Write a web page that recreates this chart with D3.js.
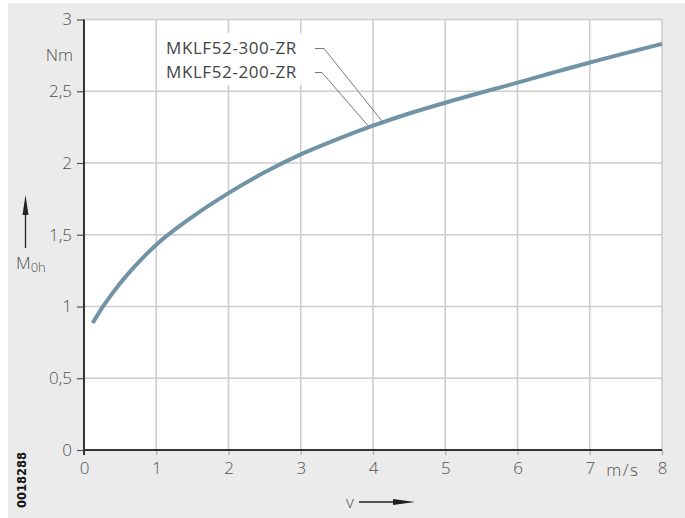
<!DOCTYPE html>
<html>
<head>
<meta charset="utf-8">
<script src="https://cdn.jsdelivr.net/npm/d3@7"></script>
<style>
  html, body { margin: 0; padding: 0; background: #ffffff; }
  svg { display: block; }
  text { font-family: "Open Sans", "DejaVu Sans", sans-serif; }
</style>
</head>
<body>
<div id="chart"></div>
<script>
// Frictional torque M0h versus speed v (curve shared by both sizes)
const speed  = [0.12, 0.25, 0.4, 0.6, 0.8, 1, 1.5, 2, 2.5, 3, 3.5, 4, 4.5, 5, 6, 7, 8];
const torque = [0.885, 0.99, 1.097, 1.222, 1.332, 1.43, 1.625, 1.79, 1.935, 2.06, 2.165, 2.26, 2.345, 2.42, 2.56, 2.70, 2.83];

const seriesLabels = ["MKLF52-300-ZR", "MKLF52-200-ZR"];
const seriesAnchorV = [4.12, 3.93];   // where each leader line meets the curve

const xTicks = [0, 1, 2, 3, 4, 5, 6, 7, 8];
const xTickLabels = ["0", "1", "2", "3", "4", "5", "6", "7", "8"];
const yTicks = [0, 0.5, 1, 1.5, 2, 2.5, 3];
const yTickLabels = ["0", "0,5", "1", "1,5", "2", "2,5", "3"];

const W = 685, H = 518;
const plot = { left: 84, right: 662, top: 19.5, bottom: 450 };
const FS = "17px";

const svg = d3.select("#chart").append("svg")
  .attr("width", W).attr("height", H);

// outer panel
svg.append("rect").attr("x", 8).attr("y", 3)
  .attr("width", W - 8).attr("height", H - 3).attr("fill", "#ebebeb");

const x = d3.scaleLinear().domain([0, 8]).range([plot.left, plot.right]);
const y = d3.scaleLinear().domain([0, 3]).range([plot.bottom, plot.top]);

// plot background
svg.append("rect")
  .attr("x", x(0)).attr("y", y(3))
  .attr("width", x(8) - x(0)).attr("height", y(0) - y(3))
  .attr("fill", "#ffffff");

// grid
const grid = svg.append("g").attr("stroke", "#cdcdcd").attr("stroke-width", 1.6);
grid.selectAll("line.gx").data(xTicks.slice(1)).join("line")
  .attr("x1", d => x(d)).attr("x2", d => x(d))
  .attr("y1", y(0)).attr("y2", y(3));
grid.selectAll("line.gy").data(yTicks.slice(1)).join("line")
  .attr("x1", x(0)).attr("x2", x(8))
  .attr("y1", d => y(d)).attr("y2", d => y(d));

// axes
const xAxis = d3.axisBottom(x).tickValues(xTicks)
  .tickFormat((d, i) => xTickLabels[i]).tickSize(5).tickPadding(7);
const yAxis = d3.axisLeft(y).tickValues(yTicks)
  .tickFormat((d, i) => yTickLabels[i]).tickSize(7).tickPadding(5);

const gx = svg.append("g").attr("transform", `translate(0,${y(0)})`).call(xAxis);
const gy = svg.append("g").attr("transform", `translate(${x(0)},0)`).call(yAxis);

[gx, gy].forEach(g => {
  g.select(".domain").remove();
  g.selectAll(".tick line").attr("stroke", "#555").attr("stroke-width", 1.2);
  g.selectAll(".tick text").attr("fill", "#505050")
    .style("font-size", FS).style("font-weight", 300);
});
gx.selectAll(".tick line").attr("stroke", "#aaa");
gx.selectAll(".tick text").attr("dy", "0.7em");

// axis lines
svg.append("line").attr("x1", x(0)).attr("x2", x(8)).attr("y1", y(0)).attr("y2", y(0))
  .attr("stroke", "#333").attr("stroke-width", 2);
svg.append("line").attr("x1", x(0)).attr("x2", x(0)).attr("y1", y(0) + 5).attr("y2", y(3))
  .attr("stroke", "#333").attr("stroke-width", 2);

// unit labels
svg.append("text").attr("x", 73).attr("y", y(2.75)).attr("dy", "0.35em")
  .attr("text-anchor", "end").attr("fill", "#505050")
  .style("font-size", FS).style("font-weight", 300).text("Nm");
svg.append("text").attr("x", (x(7) + x(8)) / 2 - 3).attr("y", y(0) + 20)
  .attr("dy", "0.35em").attr("letter-spacing", "1.5px")
  .attr("text-anchor", "middle").attr("fill", "#505050")
  .style("font-size", FS).style("font-weight", 300).text("m/s");

// axis titles with arrows
const arrowHead = (x0, y0, dir) => dir === "up"
  ? `M${x0 - 3},${y0 + 20} L${x0},${y0} L${x0 + 3},${y0 + 20} Z`
  : `M${x0 - 22},${y0 - 3} L${x0},${y0} L${x0 - 22},${y0 + 3} Z`;

svg.append("line").attr("x1", 25.5).attr("x2", 25.5).attr("y1", 248).attr("y2", 205)
  .attr("stroke", "#222").attr("stroke-width", 1.3);
svg.append("path").attr("d", arrowHead(25.5, 195, "up")).attr("fill", "#222");

const mLabel = svg.append("text").attr("x", 16).attr("y", 269)
  .attr("fill", "#505050").style("font-size", FS).style("font-weight", 300);
mLabel.append("tspan").text("M");
mLabel.append("tspan").attr("dy", 3).style("font-size", "13px").text("0h");

svg.append("text").attr("x", 350).attr("y", 502).attr("dy", "0.35em")
  .attr("text-anchor", "middle").attr("fill", "#505050")
  .style("font-size", FS).style("font-weight", 300).text("v");
svg.append("line").attr("x1", 359).attr("x2", 400).attr("y1", 502).attr("y2", 502)
  .attr("stroke", "#222").attr("stroke-width", 1.3);
svg.append("path").attr("d", arrowHead(415, 502, "right")).attr("fill", "#222");

// drawing number
svg.append("text")
  .attr("transform", "translate(26,480) rotate(-90)")
  .attr("text-anchor", "middle").attr("fill", "#111")
  .style("font-size", "11.5px").style("font-weight", 700)
  .style("font-family", "'DejaVu Sans', sans-serif").text("0018288");

// torque curve
const pts = speed.map((v, i) => [v, torque[i]]);
const line = d3.line().x(d => x(d[0])).y(d => y(d[1])).curve(d3.curveMonotoneX);
svg.append("path").datum(pts).attr("d", line)
  .attr("fill", "none").attr("stroke", "#7094a5").attr("stroke-width", 4)
  .attr("stroke-linecap", "butt");

// series labels with leader lines
const torqueAt = v => {
  const i = d3.bisectLeft(speed, v);
  const t = (v - speed[i - 1]) / (speed[i] - speed[i - 1]);
  return torque[i - 1] + t * (torque[i] - torque[i - 1]);
};
const labelY = [48.5, 72.5];
svg.append("rect").attr("x", 160).attr("y", 33).attr("width", 150).attr("height", 52)
  .attr("fill", "#ffffff");
seriesLabels.forEach((s, i) => {
  svg.append("text").attr("x", 166).attr("y", labelY[i]).attr("dy", "0.35em")
    .attr("fill", "#444").attr("letter-spacing", "0.6px")
    .style("font-size", FS).style("font-weight", 400)
    .text(s);
  const ax = x(seriesAnchorV[i]), ay = y(torqueAt(seriesAnchorV[i])) - 2;
  svg.append("path")
    .attr("d", `M315,${labelY[i]} L${i === 0 ? 324 : 322},${labelY[i]} L${ax},${ay}`)
    .attr("fill", "none").attr("stroke", "#777").attr("stroke-width", 1);
});
</script>
</body>
</html>
